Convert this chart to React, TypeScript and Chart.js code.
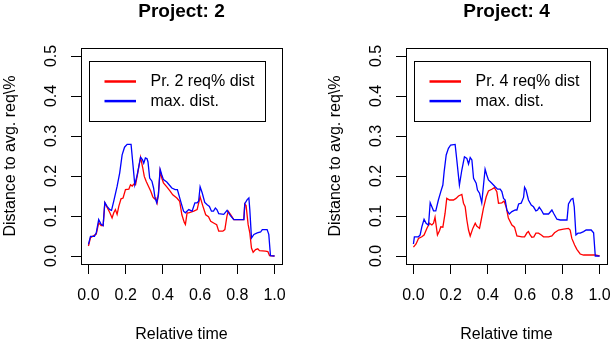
import React, { useEffect, useRef } from "react";
import { Chart, registerables } from "chart.js";

Chart.register(...registerables);

const FONT = '"Liberation Sans", Arial, Helvetica, sans-serif';

const xTicks = [0, 0.2, 0.4, 0.6, 0.8, 1.0];
const yTicks = [0, 0.1, 0.2, 0.3, 0.4, 0.5];

// Project 2 — own req% distance (red)
const p2ReqT = [0, 0.011, 0.042, 0.055, 0.068, 0.079, 0.088, 0.1, 0.115, 0.127, 0.136, 0.145, 0.154, 0.163, 0.175, 0.186, 0.199, 0.217, 0.226, 0.235, 0.244, 0.253, 0.265, 0.28, 0.292, 0.3, 0.31, 0.323, 0.335, 0.346, 0.355, 0.362, 0.369, 0.376, 0.385, 0.394, 0.403, 0.421, 0.439, 0.453, 0.475, 0.49, 0.502, 0.515, 0.521, 0.53, 0.539, 0.566, 0.584, 0.6, 0.614, 0.63, 0.645, 0.657, 0.675, 0.689, 0.7, 0.722, 0.733, 0.744, 0.751, 0.763, 0.781, 0.835, 0.84, 0.847, 0.858, 0.867, 0.876, 0.885, 0.898, 0.91, 0.919, 0.951, 0.964, 0.973, 1.0];
const p2ReqV = [0.025, 0.046, 0.055, 0.083, 0.076, 0.076, 0.133, 0.122, 0.108, 0.095, 0.108, 0.116, 0.104, 0.124, 0.143, 0.145, 0.166, 0.167, 0.178, 0.175, 0.18, 0.178, 0.208, 0.247, 0.22, 0.199, 0.187, 0.174, 0.162, 0.148, 0.143, 0.145, 0.133, 0.156, 0.213, 0.195, 0.183, 0.173, 0.162, 0.153, 0.145, 0.137, 0.103, 0.084, 0.079, 0.108, 0.108, 0.112, 0.116, 0.148, 0.126, 0.103, 0.098, 0.087, 0.082, 0.078, 0.062, 0.062, 0.066, 0.099, 0.112, 0.104, 0.091, 0.091, 0.13, 0.126, 0.079, 0.058, 0.02, 0.0095, 0.016, 0.018, 0.0135, 0.012, 0.011, 0.001, 0];

// Project 2 — max distance (blue)
const p2MaxT = [0, 0.011, 0.032, 0.042, 0.055, 0.068, 0.079, 0.088, 0.1, 0.115, 0.124, 0.136, 0.154, 0.168, 0.181, 0.194, 0.208, 0.229, 0.24, 0.249, 0.262, 0.28, 0.29, 0.297, 0.306, 0.315, 0.32, 0.329, 0.341, 0.35, 0.358, 0.367, 0.376, 0.385, 0.394, 0.403, 0.421, 0.448, 0.466, 0.478, 0.493, 0.511, 0.521, 0.539, 0.557, 0.572, 0.584, 0.592, 0.6, 0.611, 0.625, 0.638, 0.65, 0.661, 0.672, 0.682, 0.69, 0.7, 0.727, 0.745, 0.763, 0.781, 0.826, 0.835, 0.84, 0.853, 0.862, 0.867, 0.876, 0.889, 0.907, 0.925, 0.934, 0.96, 0.969, 0.978, 1.0];
const p2MaxV = [0.029, 0.049, 0.049, 0.058, 0.091, 0.079, 0.076, 0.134, 0.124, 0.116, 0.114, 0.137, 0.174, 0.208, 0.253, 0.272, 0.279, 0.279, 0.224, 0.178, 0.203, 0.247, 0.241, 0.232, 0.245, 0.243, 0.235, 0.195, 0.187, 0.17, 0.145, 0.133, 0.153, 0.217, 0.203, 0.191, 0.185, 0.17, 0.166, 0.166, 0.141, 0.112, 0.108, 0.116, 0.112, 0.133, 0.133, 0.137, 0.173, 0.158, 0.134, 0.128, 0.124, 0.112, 0.112, 0.12, 0.116, 0.106, 0.104, 0.114, 0.101, 0.091, 0.091, 0.091, 0.131, 0.141, 0.145, 0.116, 0.045, 0.054, 0.058, 0.06, 0.066, 0.066, 0.054, 0.001, 0];

// Project 4 — own req% distance (red)
const p4ReqT = [0, 0.014, 0.027, 0.045, 0.057, 0.072, 0.086, 0.099, 0.108, 0.116, 0.129, 0.14, 0.147, 0.158, 0.17, 0.179, 0.194, 0.215, 0.229, 0.242, 0.26, 0.269, 0.278, 0.287, 0.296, 0.305, 0.319, 0.332, 0.34, 0.355, 0.364, 0.376, 0.391, 0.403, 0.421, 0.435, 0.448, 0.457, 0.475, 0.487, 0.499, 0.51, 0.529, 0.543, 0.556, 0.583, 0.597, 0.61, 0.618, 0.627, 0.636, 0.647, 0.658, 0.672, 0.687, 0.699, 0.726, 0.744, 0.758, 0.78, 0.806, 0.833, 0.842, 0.851, 0.866, 0.878, 0.896, 0.914, 0.977, 1.0];
const p4ReqV = [0.022, 0.03, 0.044, 0.048, 0.0525, 0.069, 0.082, 0.0775, 0.082, 0.097, 0.0525, 0.063, 0.073, 0.072, 0.107, 0.144, 0.14, 0.14, 0.144, 0.15, 0.154, 0.132, 0.123, 0.09, 0.065, 0.05, 0.069, 0.082, 0.075, 0.069, 0.09, 0.119, 0.148, 0.1625, 0.167, 0.171, 0.161, 0.132, 0.133, 0.1375, 0.121, 0.095, 0.0775, 0.072, 0.05, 0.048, 0.048, 0.058, 0.061, 0.0525, 0.047, 0.048, 0.057, 0.057, 0.0525, 0.048, 0.048, 0.05, 0.058, 0.065, 0.067, 0.069, 0.065, 0.044, 0.0275, 0.0167, 0.005, 0.0025, 0.0025, 0];

// Project 4 — max distance (blue)
const p4MaxT = [0, 0.005, 0.027, 0.036, 0.045, 0.057, 0.068, 0.081, 0.09, 0.099, 0.108, 0.12, 0.134, 0.147, 0.158, 0.165, 0.176, 0.188, 0.2, 0.224, 0.233, 0.247, 0.26, 0.274, 0.287, 0.296, 0.305, 0.314, 0.323, 0.337, 0.344, 0.355, 0.367, 0.376, 0.385, 0.394, 0.403, 0.421, 0.439, 0.452, 0.466, 0.475, 0.484, 0.493, 0.502, 0.515, 0.529, 0.547, 0.556, 0.565, 0.579, 0.592, 0.597, 0.605, 0.618, 0.633, 0.645, 0.658, 0.667, 0.676, 0.687, 0.699, 0.726, 0.744, 0.753, 0.771, 0.789, 0.825, 0.833, 0.848, 0.857, 0.864, 0.873, 0.884, 0.896, 0.914, 0.928, 0.955, 0.968, 0.977, 1.0];
const p4MaxV = [0.03, 0.048, 0.048, 0.0525, 0.073, 0.092, 0.082, 0.0775, 0.133, 0.123, 0.113, 0.113, 0.14, 0.161, 0.1775, 0.211, 0.2525, 0.269, 0.2775, 0.279, 0.24, 0.1775, 0.215, 0.248, 0.244, 0.23, 0.246, 0.24, 0.194, 0.182, 0.165, 0.157, 0.133, 0.175, 0.217, 0.2025, 0.19, 0.182, 0.173, 0.167, 0.167, 0.161, 0.144, 0.14, 0.115, 0.105, 0.111, 0.115, 0.115, 0.13, 0.132, 0.147, 0.172, 0.165, 0.14, 0.1275, 0.123, 0.113, 0.115, 0.122, 0.115, 0.105, 0.105, 0.115, 0.107, 0.092, 0.09, 0.09, 0.13, 0.142, 0.144, 0.123, 0.0525, 0.057, 0.057, 0.061, 0.065, 0.065, 0.058, 0, 0];

const W = 611;
const H = 346;

const zip = (t: number[], v: number[]) => t.map((x, i) => ({ x, y: v[i] }));

const boxPlugin = {
  id: "rbox",
  afterDraw(chart: any) {
    const { ctx, chartArea } = chart;
    const l = Math.round(chartArea.left);
    const t = Math.round(chartArea.top);
    const r = Math.round(chartArea.right);
    const b = Math.round(chartArea.bottom);
    ctx.save();
    ctx.strokeStyle = "#000";
    ctx.lineWidth = 1;
    ctx.strokeRect(l + 0.5, t + 0.5, r - l, b - t);
    ctx.restore();
  },
};

const legendPlugin = {
  id: "rlegend",
  afterDraw(chart: any) {
    const { ctx, chartArea } = chart;
    const bx = Math.round(chartArea.left + 8) + 0.5;
    const by = Math.round(chartArea.top + 12.5) + 0.5;
    const bw = 176;
    const bh = 60;
    ctx.save();
    ctx.fillStyle = "#fff";
    ctx.fillRect(bx, by, bw, bh);
    ctx.strokeStyle = "#000";
    ctx.lineWidth = 1;
    ctx.strokeRect(bx, by, bw, bh);
    ctx.font = `16px ${FONT}`;
    ctx.textBaseline = "middle";
    ctx.textAlign = "left";
    chart.data.datasets.forEach((ds: any, i: number) => {
      const y = by + 20 + i * 19.6;
      ctx.strokeStyle = ds.borderColor;
      ctx.lineWidth = 2.5;
      ctx.beginPath();
      ctx.moveTo(bx + 15, y);
      ctx.lineTo(bx + 46.5, y);
      ctx.stroke();
      ctx.fillStyle = "#000";
      ctx.fillText(ds.label, bx + 61, y + 0.5);
    });
    ctx.restore();
  },
};

function makeConfig(title: string, reqLabel: string, reqT: number[], reqV: number[], maxT: number[], maxV: number[], padLeft: number, padRight: number): any {
  const tickFont = { size: 16, family: FONT };
  const grid = {
    display: true,
    drawOnChartArea: false,
    drawTicks: true,
    tickLength: 10,
    color: "#000",
    tickColor: "#000",
    lineWidth: 1,
  };
  return {
    type: "line",
    data: {
      datasets: [
        {
          label: reqLabel,
          data: zip(reqT, reqV),
          borderColor: "#ff0000",
          borderWidth: 1.3,
          pointRadius: 0,
          tension: 0,
          fill: false,
          order: 1,
        },
        {
          label: "max. dist.",
          data: zip(maxT, maxV),
          borderColor: "#0000ff",
          borderWidth: 1.3,
          pointRadius: 0,
          tension: 0,
          fill: false,
          order: 0,
        },
      ],
    },
    options: {
      animation: false,
      responsive: false,
      events: [],
      layout: { padding: { left: padLeft, right: padRight, top: 0, bottom: 0 } },
      plugins: {
        legend: { display: false },
        tooltip: { enabled: false },
        title: {
          display: true,
          text: title,
          fullSize: false,
          color: "#000",
          font: { size: 19, weight: "bold", family: FONT, lineHeight: 1.2 },
          padding: { top: 0, bottom: 25.2 },
        },
      },
      scales: {
        x: {
          type: "linear",
          min: -0.04,
          max: 1.04,
          afterBuildTicks: (s: any) => {
            s.ticks = xTicks.map((v) => ({ value: v }));
          },
          afterFit: (s: any) => {
            s.height = 82;
            s.paddingLeft = 0;
            s.paddingRight = 0;
          },
          ticks: {
            callback: (v: any) => Number(v).toFixed(1),
            font: tickFont,
            color: "#000",
            padding: 12,
            maxRotation: 0,
            minRotation: 0,
            autoSkip: false,
          },
          grid,
          border: { display: false },
          title: {
            display: true,
            text: "Relative time",
            color: "#000",
            font: { size: 16, family: FONT, lineHeight: 1.2 },
            padding: { top: 0, bottom: 2 },
          },
        },
        y: {
          type: "linear",
          min: -0.02,
          max: 0.52,
          afterBuildTicks: (s: any) => {
            s.ticks = yTicks.map((v) => ({ value: v }));
          },
          afterFit: (s: any) => {
            s.width = 81;
            s.paddingTop = 0;
            s.paddingBottom = 0;
          },
          ticks: {
            callback: (v: any) => Number(v).toFixed(1),
            font: tickFont,
            color: "#000",
            padding: 8,
            minRotation: 90,
            maxRotation: 90,
            crossAlign: "center",
            autoSkip: false,
          },
          grid,
          border: { display: false },
          title: {
            display: true,
            text: "Distance to avg. req\\%",
            color: "#000",
            font: { size: 16, family: FONT, lineHeight: 1.2 },
            padding: { top: 0.5, bottom: 0 },
          },
        },
      },
    },
    plugins: [boxPlugin, legendPlugin],
  };
}

function Panel(props: { config: () => any }) {
  const ref = useRef<HTMLCanvasElement | null>(null);
  useEffect(() => {
    if (!ref.current) return;
    const chart = new Chart(ref.current, props.config());
    return () => chart.destroy();
  }, []);
  return (
    <canvas
      ref={ref}
      width={W}
      height={H}
      style={{ position: "absolute", left: 0, top: 0, width: W, height: H }}
    />
  );
}

export default function App() {
  return (
    <div style={{ position: "fixed", left: 0, top: 0, width: W, height: H, background: "#fff", overflow: "hidden" }}>
      <Panel config={() => makeConfig("Project: 2", "Pr. 2 req% dist", p2ReqT, p2ReqV, p2MaxT, p2MaxV, 0, 329)} />
      <Panel config={() => makeConfig("Project: 4", "Pr. 4 req% dist", p4ReqT, p4ReqV, p4MaxT, p4MaxV, 325, 4)} />
    </div>
  );
}
